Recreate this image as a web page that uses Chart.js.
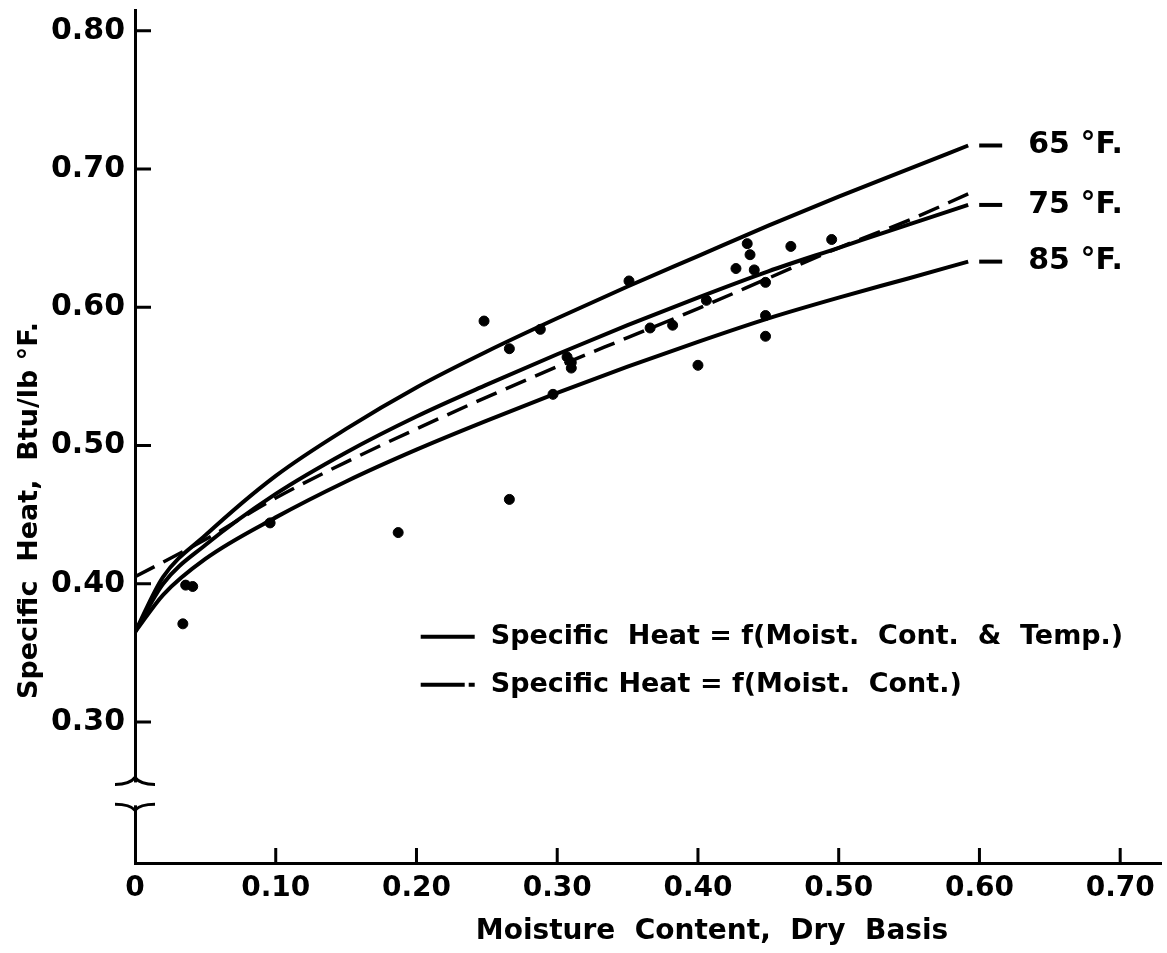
<!DOCTYPE html>
<html>
<head>
<meta charset="utf-8">
<title>Specific Heat vs Moisture Content</title>
<script src="https://cdn.jsdelivr.net/npm/chart.js@4.4.1/dist/chart.umd.min.js"></script>
<style>
  html, body { margin: 0; padding: 0; background: #fff; }
  #wrap { width: 1167px; height: 953px; }
</style>
</head>
<body>
<div id="wrap"><canvas id="chart" width="1167" height="953"></canvas></div>
<script>
// curves (moisture content, dry basis)
const curveX    = [0, 0.02, 0.05, 0.10, 0.15, 0.20, 0.25, 0.30, 0.35, 0.40, 0.45, 0.50, 0.55, 0.592];
const heat65    = [0.365, 0.405, 0.435, 0.478, 0.512, 0.542, 0.568, 0.592, 0.615, 0.637, 0.659, 0.680, 0.700, 0.717];
const heat75    = [0.365, 0.400, 0.428, 0.465, 0.495, 0.521, 0.544, 0.566, 0.587, 0.607, 0.626, 0.643, 0.660, 0.674];
const heat85    = [0.365, 0.392, 0.418, 0.448, 0.474, 0.497, 0.518, 0.538, 0.557, 0.575, 0.592, 0.607, 0.621, 0.633];
const dashX     = [0, 0.05, 0.10, 0.15, 0.20, 0.25, 0.30, 0.35, 0.40, 0.45, 0.50, 0.55, 0.592];
const heatMoist = [0.405, 0.432, 0.462, 0.488, 0.512, 0.535, 0.557, 0.578, 0.599, 0.621, 0.643, 0.663, 0.682];

// measured points
const obsX = [0.034, 0.036, 0.041, 0.096, 0.187, 0.248, 0.266, 0.288, 0.266, 0.297, 0.307, 0.310, 0.310,
              0.351, 0.366, 0.382, 0.400, 0.406, 0.427, 0.435, 0.437, 0.440, 0.448, 0.448, 0.448, 0.466, 0.495];
const obsY = [0.371, 0.399, 0.398, 0.444, 0.437, 0.590, 0.570, 0.584, 0.461, 0.537, 0.564, 0.560, 0.556,
              0.619, 0.585, 0.587, 0.558, 0.605, 0.628, 0.646, 0.638, 0.627, 0.618, 0.594, 0.579, 0.644, 0.649];

const xTicks      = [0, 0.1, 0.2, 0.3, 0.4, 0.5, 0.6, 0.7];
const xTickLabels = ['0', '0.10', '0.20', '0.30', '0.40', '0.50', '0.60', '0.70'];
const yTicks      = [0.3, 0.4, 0.5, 0.6, 0.7, 0.8];
const yTickLabels = ['0.30', '0.40', '0.50', '0.60', '0.70', '0.80'];
const curveLabels = ['65 °F.', '75 °F.', '85 °F.'];
const legendText  = ['Specific  Heat = f(Moist.  Cont.  &  Temp.)', 'Specific Heat = f(Moist.  Cont.)'];
const xTitle = 'Moisture  Content,  Dry  Basis';
const yTitle = 'Specific  Heat,  Btu/lb °F.';

const FONT = '"DejaVu Sans", sans-serif';
const toPts = (xs, ys) => xs.map((x, i) => ({ x, y: ys[i] }));

const lineSet = (label, xs, ys, dash) => ({
  label,
  data: toPts(xs, ys),
  showLine: true,
  borderColor: '#000',
  borderWidth: dash ? 3.5 : 4,
  borderDash: dash ? [22, 10] : [],
  pointRadius: 0,
  cubicInterpolationMode: 'monotone',
  fill: false
});

// extra drawing: inner ticks, axis break, curve labels, legend, axis titles
const decor = {
  id: 'decor',
  afterDraw(chart) {
    const { ctx, scales: { x, y } } = chart;
    ctx.save();
    ctx.strokeStyle = '#000';
    ctx.fillStyle = '#000';
    ctx.lineWidth = 3;

    ctx.beginPath();
    yTicks.forEach(v => {
      const py = y.getPixelForValue(v);
      ctx.moveTo(x.left, py); ctx.lineTo(x.left + 16, py);
    });
    xTicks.slice(1).forEach(v => {
      const px = x.getPixelForValue(v);
      ctx.moveTo(px, y.bottom); ctx.lineTo(px, y.bottom - 15);
    });
    ctx.stroke();

    // axis break
    const ax = x.left;
    const b1 = y.getPixelForValue(0.257);
    const b2 = y.getPixelForValue(0.239);
    ctx.fillStyle = '#fff';
    ctx.fillRect(ax - 5, b1 + 1, 10, b2 - b1 - 2);
    ctx.fillStyle = '#000';
    ctx.beginPath();
    ctx.moveTo(ax - 20, b1 + 3);
    ctx.quadraticCurveTo(ax - 5, b1 + 3, ax, b1 - 4);
    ctx.quadraticCurveTo(ax + 5, b1 + 3, ax + 20, b1 + 3);
    ctx.moveTo(ax - 20, b2 - 2);
    ctx.quadraticCurveTo(ax - 5, b2 - 2, ax, b2 + 4);
    ctx.quadraticCurveTo(ax + 5, b2 - 2, ax + 20, b2 - 2);
    ctx.stroke();

    // curve labels
    ctx.font = 'bold 30px ' + FONT;
    ctx.textBaseline = 'middle';
    ctx.textAlign = 'left';
    [0, 1, 2].forEach(i => {
      const meta = chart.getDatasetMeta(i);
      const last = meta.data[meta.data.length - 1];
      ctx.lineWidth = 4;
      ctx.beginPath();
      ctx.moveTo(last.x + 11, last.y); ctx.lineTo(last.x + 34, last.y);
      ctx.stroke();
      ctx.fillText(curveLabels[i], last.x + 60, last.y);
    });

    // legend
    const lx = x.getPixelForValue(0.203);
    const rows = [y.getPixelForValue(0.3616), y.getPixelForValue(0.3269)];
    ctx.font = 'bold 27px ' + FONT;
    rows.forEach((py, i) => {
      ctx.lineWidth = 4;
      ctx.setLineDash(i ? [44, 4] : []);
      ctx.beginPath();
      ctx.moveTo(lx, py); ctx.lineTo(lx + 54, py);
      ctx.stroke();
      ctx.setLineDash([]);
      ctx.fillText(legendText[i], lx + 70, py);
    });

    // x axis title
    ctx.textAlign = 'center';
    ctx.font = 'bold 28px ' + FONT;
    ctx.fillText(xTitle, x.getPixelForValue(0.41), y.bottom + 69);

    // y axis title
    ctx.font = 'bold 27px ' + FONT;
    ctx.translate(30, y.getPixelForValue(0.453));
    ctx.rotate(-Math.PI / 2);
    ctx.fillText(yTitle, 0, 0);
    ctx.restore();
  }
};

new Chart(document.getElementById('chart'), {
  type: 'scatter',
  data: {
    datasets: [
      lineSet('65 °F', curveX, heat65, false),
      lineSet('75 °F', curveX, heat75, false),
      lineSet('85 °F', curveX, heat85, false),
      lineSet('f(Moist. Cont.)', dashX, heatMoist, true),
      {
        label: 'Data',
        data: toPts(obsX, obsY),
        pointRadius: 5,
        pointBackgroundColor: '#000',
        pointBorderColor: '#000',
        showLine: false
      }
    ]
  },
  options: {
    responsive: false,
    animation: false,
    layout: { padding: { top: 10, right: 0, left: 0, bottom: 0 } },
    plugins: { legend: { display: false }, tooltip: { enabled: false } },
    scales: {
      x: {
        type: 'linear',
        min: 0,
        max: 0.729,
        afterFit: axis => { axis.height = 90; axis.paddingLeft = 0; axis.paddingRight = 0; },
        afterBuildTicks: axis => { axis.ticks = xTicks.map(v => ({ value: v })); },
        grid: { display: false, drawTicks: false },
        border: { display: true, color: '#000', width: 3 },
        ticks: {
          color: '#000',
          padding: 9,
          maxRotation: 0,
          font: { family: FONT, size: 28, weight: 'bold' },
          callback: (v, i) => xTickLabels[i]
        }
      },
      y: {
        type: 'linear',
        min: 0.198,
        max: 0.815,
        afterFit: axis => { axis.width = 135; axis.paddingTop = 0; axis.paddingBottom = 0; },
        afterBuildTicks: axis => { axis.ticks = yTicks.map(v => ({ value: v })); },
        grid: { display: false, drawTicks: false },
        border: { display: true, color: '#000', width: 3 },
        ticks: {
          color: '#000',
          padding: 10,
          font: { family: FONT, size: 30, weight: 'bold' },
          callback: (v, i) => yTickLabels[i]
        }
      }
    }
  },
  plugins: [decor]
});
</script>
</body>
</html>
